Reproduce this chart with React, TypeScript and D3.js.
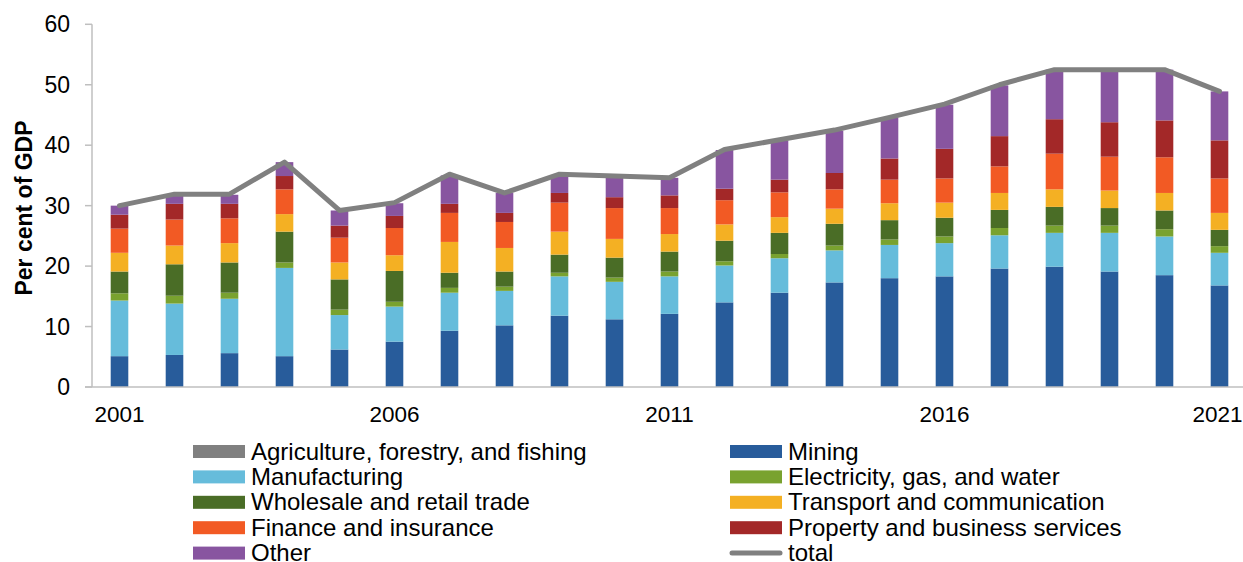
import React from "react";
import * as d3 from "d3";

const years = [2001, 2002, 2003, 2004, 2005, 2006, 2007, 2008, 2009, 2010, 2011, 2012, 2013, 2014, 2015, 2016, 2017, 2018, 2019, 2020, 2021];
const mining = [5.1, 5.3, 5.6, 5.1, 6.2, 7.5, 9.3, 10.2, 11.8, 11.2, 12.1, 14.0, 15.6, 17.3, 18.0, 18.3, 19.6, 19.9, 19.1, 18.5, 16.8];
const manufacturing = [9.2, 8.5, 9.0, 14.6, 5.7, 5.8, 6.3, 5.7, 6.5, 6.2, 6.2, 6.1, 5.7, 5.3, 5.5, 5.5, 5.5, 5.6, 6.4, 6.4, 5.4];
const electricity = [1.2, 1.3, 1.0, 0.9, 0.9, 0.8, 0.8, 0.7, 0.6, 0.7, 0.8, 0.7, 0.7, 0.8, 0.9, 1.1, 1.2, 1.2, 1.2, 1.2, 1.1];
const wholesale = [3.6, 5.2, 5.0, 5.1, 5.0, 5.1, 2.5, 2.5, 3.0, 3.3, 3.3, 3.4, 3.5, 3.6, 3.2, 3.1, 3.0, 3.1, 2.9, 3.1, 2.7];
const transport = [3.1, 3.1, 3.2, 2.9, 2.8, 2.6, 5.1, 3.9, 3.8, 3.1, 2.9, 2.7, 2.6, 2.5, 2.8, 2.5, 2.8, 2.9, 2.9, 2.9, 2.8];
const finance = [4.0, 4.3, 4.1, 4.1, 4.1, 4.5, 4.8, 4.3, 4.8, 5.1, 4.3, 4.0, 4.1, 3.2, 3.9, 4.0, 4.4, 5.9, 5.6, 5.9, 5.7];
const property = [2.3, 2.6, 2.4, 2.2, 2.0, 2.0, 1.5, 1.5, 1.6, 1.8, 2.1, 1.9, 2.1, 2.7, 3.5, 4.9, 5.0, 5.7, 5.7, 6.1, 6.3];
const other = [1.5, 1.5, 1.5, 2.3, 2.5, 2.1, 4.7, 3.3, 2.9, 3.3, 2.9, 6.4, 6.5, 7.0, 6.8, 7.3, 8.4, 8.2, 8.7, 8.4, 8.1];
const total = [30.0, 31.9, 31.9, 37.2, 29.2, 30.5, 35.2, 32.1, 35.2, 34.9, 34.6, 39.3, 40.9, 42.5, 44.6, 46.8, 50.0, 52.5, 52.5, 52.5, 48.9];

const xTickYears = [2001, 2006, 2011, 2016, 2021];
const yTicks = [0, 10, 20, 30, 40, 50, 60];

const seriesNames = [
  "Mining",
  "Manufacturing",
  "Electricity, gas, and water",
  "Wholesale and retail trade",
  "Transport and communication",
  "Finance and insurance",
  "Property and business services",
  "Other",
];
const seriesValues = [mining, manufacturing, electricity, wholesale, transport, finance, property, other];
const seriesColors = ["#285c9b", "#66bcdb", "#79a22f", "#4a6d26", "#f4b023", "#f25a24", "#a32828", "#8855a0"];

// legend order: left column then right column per row
const legendItems = [
  { name: "Agriculture, forestry, and fishing", color: "#808080", kind: "rect" },
  { name: "Mining", color: "#285c9b", kind: "rect" },
  { name: "Manufacturing", color: "#66bcdb", kind: "rect" },
  { name: "Electricity, gas, and water", color: "#79a22f", kind: "rect" },
  { name: "Wholesale and retail trade", color: "#4a6d26", kind: "rect" },
  { name: "Transport and communication", color: "#f4b023", kind: "rect" },
  { name: "Finance and insurance", color: "#f25a24", kind: "rect" },
  { name: "Property and business services", color: "#a32828", kind: "rect" },
  { name: "Other", color: "#8855a0", kind: "rect" },
  { name: "total", color: "#808080", kind: "line" },
];

const W = 1243;
const H = 562;
const FONT = "'Liberation Sans', Arial, sans-serif";

export default function App() {
  const x = d3
    .scaleBand<number>()
    .domain(years)
    .range([92, 92 + years.length * 55])
    .paddingInner(0.68)
    .paddingOuter(0.34);
  const y = d3.scaleLinear().domain([0, 60]).range([387, 24.3]);

  const rows = years.map((yr, i) => {
    const obj: any = { year: yr };
    seriesNames.forEach((n, k) => (obj[n] = seriesValues[k][i]));
    return obj;
  });
  const stacked = d3.stack<any>().keys(seriesNames)(rows);

  const line = d3
    .line<number>()
    .x((_, i) => (x(years[i]) as number) + x.bandwidth() / 2)
    .y((d) => y(d));

  return (
    <div style={{ position: "absolute", left: 0, top: 0 }}>
      <svg width={W} height={H} style={{ display: "block", fontFamily: FONT }}>
        <rect x={0} y={0} width={W} height={H} fill="#ffffff" />
        {/* bars */}
        {stacked.map((s, k) => (
          <g key={k} fill={seriesColors[k]}>
            {s.map((d: any, i: number) => (
              <rect
                key={i}
                x={x(years[i])}
                y={y(d[1])}
                width={x.bandwidth()}
                height={Math.max(0, y(d[0]) - y(d[1]))}
              />
            ))}
          </g>
        ))}
        {/* axes */}
        <line x1={92} x2={92} y1={y(60)} y2={y(0)} stroke="#bfbfbf" strokeWidth={1.5} />
        <line x1={85} x2={W} y1={y(0)} y2={y(0)} stroke="#bfbfbf" strokeWidth={1.5} />
        {yTicks.map((t) => (
          <g key={t}>
            <line x1={85} x2={92} y1={y(t)} y2={y(t)} stroke="#bfbfbf" strokeWidth={1.5} />
            <text x={70} y={y(t)} dy="0.35em" textAnchor="end" fontSize={23} fill="#000">
              {t}
            </text>
          </g>
        ))}
        {xTickYears.map((yr, i) => (
          <text
            key={yr}
            x={(x(yr) as number) + x.bandwidth() / 2 - (i === xTickYears.length - 1 ? 2 : 0)}
            y={422}
            textAnchor="middle"
            fontSize={22.5}
            fill="#000"
          >
            {yr}
          </text>
        ))}
        <text
          transform={`translate(32,${208}) rotate(-90)`}
          textAnchor="middle"
          fontSize={23}
          fontWeight="bold"
          fill="#000"
        >
          Per cent of GDP
        </text>
        {/* total line */}
        <path
          d={line(total) as string}
          fill="none"
          stroke="#808080"
          strokeWidth={5}
          strokeLinejoin="round"
          strokeLinecap="round"
        />
        {/* legend */}
        {legendItems.map((it, i) => {
          const col = i % 2;
          const row = Math.floor(i / 2);
          const sx = col === 0 ? 193 : 730;
          const cy = 451.5 + row * 25.4;
          return (
            <g key={it.name}>
              {it.kind === "rect" ? (
                <rect x={sx} y={cy - 6.5} width={52} height={13} fill={it.color} />
              ) : (
                <line
                  x1={sx + 2}
                  x2={sx + 50}
                  y1={cy}
                  y2={cy}
                  stroke={it.color}
                  strokeWidth={5}
                  strokeLinecap="round"
                />
              )}
              <text x={sx + 58} y={cy} dy="0.34em" fontSize={24} fill="#000">
                {it.name}
              </text>
            </g>
          );
        })}
      </svg>
    </div>
  );
}
